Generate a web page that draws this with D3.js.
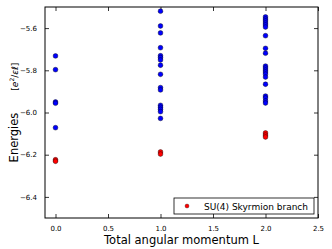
<!DOCTYPE html>
<html>
<head>
<meta charset="utf-8">
<script src="https://cdn.jsdelivr.net/npm/d3@7"></script>
<style>
  body { margin: 0; background: #fff; }
  text { font-family: "DejaVu Sans", sans-serif; fill: #000; }
</style>
</head>
<body>
<svg id="chart"></svg>
<script>
// data
const angularMomenta = [0, 1, 2];
const blueEnergies = [
    [-5.732, -5.797, -5.950, -5.956, -6.072],
    [-5.520, -5.590, -5.623, -5.693, -5.731, -5.740, -5.751, -5.776, -5.819,
     -5.882, -5.893, -5.966, -5.975, -5.985, -5.996, -6.028],
    [-5.547, -5.557, -5.566, -5.576, -5.585, -5.595, -5.636, -5.696, -5.719,
     -5.780, -5.789, -5.799, -5.808, -5.818, -5.832, -5.866, -5.922, -5.931,
     -5.945, -5.955]
];
const redEnergies = [
    [-6.224, -6.231],
    [-6.187, -6.197],
    [-6.097, -6.107, -6.116]
];
const xTicks = [0, 0.5, 1, 1.5, 2, 2.5];
const yTicks = [-6.4, -6.2, -6.0, -5.8, -5.6];
const legendLabel = "SU(4) Skyrmion branch";

const config = {
    width: 332,
    height: 249,
    margin: { top: 7, right: 14, bottom: 31, left: 45 },
    tickLen: 4
};

const w = config.width - config.margin.left - config.margin.right;
const h = config.height - config.margin.top - config.margin.bottom;

const svg = d3.select('#chart')
    .attr('width', config.width)
    .attr('height', config.height);

const chart = svg.append('g')
    .attr('transform', `translate(${config.margin.left},${config.margin.top})`);

const xScale = d3.scaleLinear().domain([-0.1, 2.5]).range([0, w]);
const yScale = d3.scaleLinear().domain([-6.5, -5.5]).range([h, 0]);

const fmt = d3.format('.1f');

// axes with inward ticks on all four sides
const xAxis = d3.axisBottom(xScale).tickValues(xTicks).tickFormat(fmt)
    .tickSizeInner(-config.tickLen).tickSizeOuter(0).tickPadding(8);
const xAxisTop = d3.axisTop(xScale).tickValues(xTicks).tickFormat('')
    .tickSizeInner(-config.tickLen).tickSizeOuter(0);
const yAxis = d3.axisLeft(yScale).tickValues(yTicks).tickFormat(fmt)
    .tickSizeInner(-config.tickLen).tickSizeOuter(0).tickPadding(8);
const yAxisRight = d3.axisRight(yScale).tickValues(yTicks).tickFormat('')
    .tickSizeInner(-config.tickLen).tickSizeOuter(0);

function styleAxis(g) {
    g.select('.domain').remove();
    g.selectAll('.tick line').attr('stroke', '#000').attr('stroke-width', 0.8);
    g.selectAll('.tick text').attr('font-size', 7).attr('font-family', 'DejaVu Sans');
}

chart.append('g').attr('transform', `translate(0,${h})`).call(xAxis).call(styleAxis);
chart.append('g').call(xAxisTop).call(styleAxis);
chart.append('g').call(yAxis).call(styleAxis);
chart.append('g').attr('transform', `translate(${w},0)`).call(yAxisRight).call(styleAxis);

// frame
chart.append('rect')
    .attr('x', 0).attr('y', 0)
    .attr('width', w).attr('height', h)
    .attr('fill', 'none')
    .attr('stroke', '#000')
    .attr('stroke-width', 1);

// points
const bluePts = [];
blueEnergies.forEach((arr, i) => arr.forEach(e => bluePts.push({ L: angularMomenta[i], E: e })));
const redPts = [];
redEnergies.forEach((arr, i) => arr.forEach(e => redPts.push({ L: angularMomenta[i], E: e })));

chart.selectAll('.blue')
    .data(bluePts)
    .join('circle')
    .attr('class', 'blue')
    .attr('cx', d => xScale(d.L))
    .attr('cy', d => yScale(d.E))
    .attr('r', 2.4)
    .attr('fill', '#0000ff')
    .attr('stroke', '#000')
    .attr('stroke-width', 0.4);

chart.selectAll('.red')
    .data(redPts)
    .join('circle')
    .attr('class', 'red')
    .attr('cx', d => xScale(d.L))
    .attr('cy', d => yScale(d.E))
    .attr('r', 2.4)
    .attr('fill', '#ff0000')
    .attr('stroke', '#000')
    .attr('stroke-width', 0.4);

// legend
const legend = chart.append('g')
    .attr('transform', `translate(${w - 144},${h - 20})`);
legend.append('rect')
    .attr('width', 140).attr('height', 16)
    .attr('fill', '#fff')
    .attr('stroke', '#000')
    .attr('stroke-width', 0.8);
legend.append('circle')
    .attr('cx', 13).attr('cy', 8)
    .attr('r', 2)
    .attr('fill', '#ff0000')
    .attr('stroke', '#000')
    .attr('stroke-width', 0.3);
legend.append('text')
    .attr('x', 30).attr('y', 11.5)
    .attr('font-size', 9)
    .text(legendLabel);

// axis labels
svg.append('text')
    .attr('x', config.margin.left + w / 2)
    .attr('y', 244)
    .attr('text-anchor', 'middle')
    .attr('font-size', 11.5)
    .text('Total angular momentum L');

const yLab = svg.append('text')
    .attr('transform', `translate(18,${config.margin.top + h / 2}) rotate(-90)`)
    .attr('text-anchor', 'middle')
    .attr('font-size', 11.5);
yLab.append('tspan').text('Energies');
yLab.append('tspan').attr('dx', 22).attr('font-size', 9).text('[');
yLab.append('tspan').attr('font-size', 9).attr('font-style', 'italic').text('e');
yLab.append('tspan').attr('font-size', 6).attr('dy', -4).text('2');
yLab.append('tspan').attr('font-size', 9).attr('dy', 4).text('/');
yLab.append('tspan').attr('font-size', 9).attr('font-style', 'italic').text('εℓ');
yLab.append('tspan').attr('font-size', 9).text(']');
</script>
</body>
</html>
